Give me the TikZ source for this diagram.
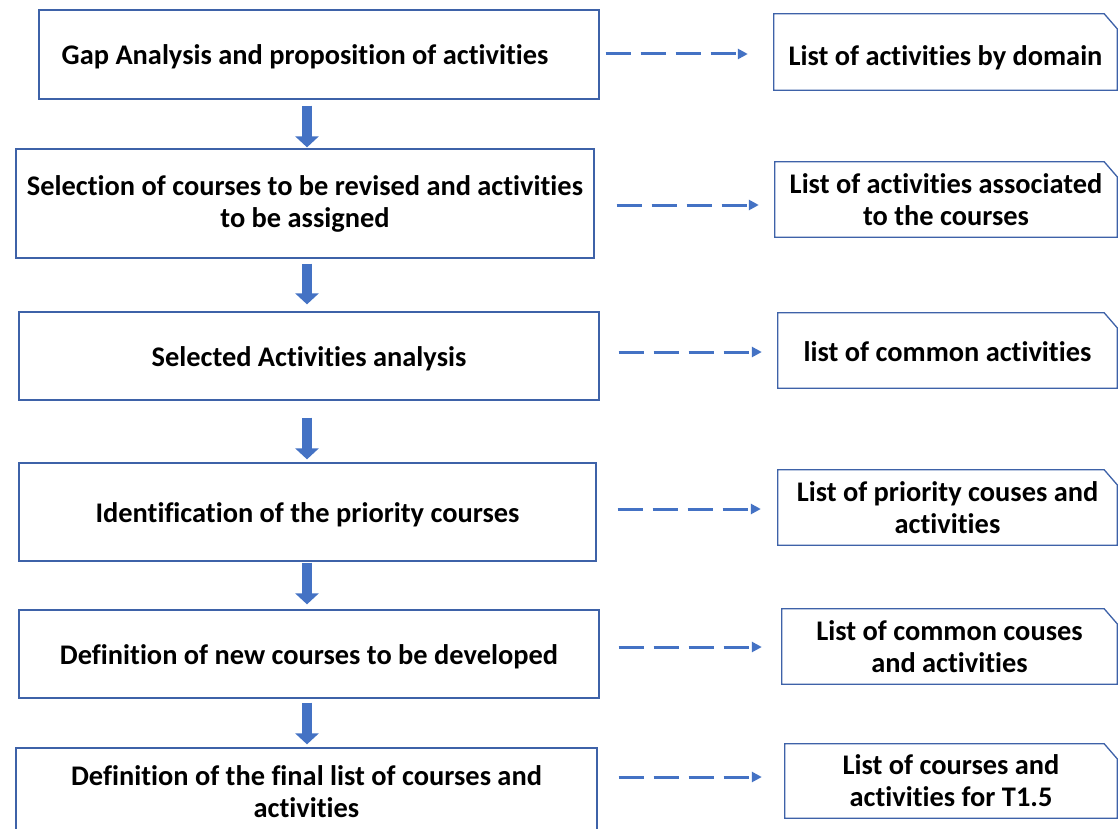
\documentclass[tikz,border=0pt]{standalone}
\usepackage{fontspec}
\setmainfont[Ligatures=NoCommon]{Carlito}
\usetikzlibrary{arrows.meta}

\definecolor{boxline}{RGB}{62,98,168}
\definecolor{flowblue}{RGB}{68,114,196}

\tikzset{
  stage/.style={draw=boxline, line width=1.3pt, align=center, inner sep=0pt,
    font=\fontsize{28.4}{32}\selectfont\bfseries},
  result/.style={align=center, inner sep=0pt,
    font=\fontsize{28.4}{32}\selectfont\bfseries},
  oneline/.style={text height=27pt, text depth=6pt},
  outline/.style={draw=boxline, line width=1.3pt},
  blockarrow/.style={flowblue, line width=10pt, -{Triangle[width=23pt,length=11pt]}},
  dasharrow/.style={flowblue, line width=3pt, dash pattern=on 25pt off 10pt,
    -{Triangle[width=10pt,length=10pt]}}
}

\begin{document}
\begin{tikzpicture}[x=1pt,y=-1pt]
    \useasboundingbox (0,0) rectangle (1118,829);
    \clip (0,0) rectangle (1118,829);
    \fill[white] (0,0) rectangle (1118,829);

    % process steps
    \node[stage, oneline, minimum width=560, minimum height=89] (L1) at (319,54.5) {Gap Analysis and proposition of activities\hspace*{28pt}};
    \node[stage, minimum width=578, minimum height=109] (L2) at (305,203.5) {Selection of courses to be revised and activities\\to be assigned};
    \node[stage, oneline, minimum width=580, minimum height=88] (L3) at (309,356) {Selected Activities analysis};
    \node[stage, oneline, minimum width=577, minimum height=98] (L4) at (307.5,512) {Identification of the priority courses};
    \node[stage, oneline, minimum width=580, minimum height=88] (L5) at (309,654) {Definition of new courses to be developed};
    \node[stage, minimum width=581, minimum height=88] (L6) at (306.5,792) {Definition of the final list of courses and\\activities};

    % outputs
    \node[result, text height=33pt, text depth=6pt, minimum width=343, minimum height=76] (R1) at (945.5,52) {List of activities by domain};
    \node[result, minimum width=342, minimum height=75] (R2) at (946,199.5) {List of activities associated\\to the courses};
    \node[result, oneline, minimum width=339, minimum height=75] (R3) at (947.5,350.5) {list of common activities};
    \node[result, minimum width=339, minimum height=75] (R4) at (947.5,507.5) {List of priority couses and\\activities};
    \node[result, minimum width=335, minimum height=75] (R5) at (949.5,646.5) {List of common couses\\and activities};
    \node[result, minimum width=332, minimum height=74] (R6) at (951,781) {List of courses and\\activities for T1.5};

    % snipped corner frames
    \foreach \r in {R1,R2,R3,R4,R5,R6}
        \draw[outline] (\r.south west) |- ([xshift=-13pt]\r.north east)
            -- ([yshift=-15pt]\r.north east) -- (\r.south east) -- cycle;

    \coordinate (X) at (307,0);
    \draw[blockarrow] ([yshift=-6pt]L1.south -| X) -- ([yshift=1pt]L2.north -| X);
    \draw[blockarrow] ([yshift=-5pt]L2.south -| X) -- ([yshift=7pt]L3.north -| X);
    \draw[blockarrow] ([yshift=-17pt]L3.south -| X) -- ([yshift=3pt]L4.north -| X);
    \draw[blockarrow] ([yshift=-1pt]L4.south -| X) -- ([yshift=5pt]L5.north -| X);
    \draw[blockarrow] ([yshift=-4pt]L5.south -| X) -- ([yshift=3pt]L6.north -| X);

    \draw[dasharrow, shorten <=6pt, shorten >=26pt] (L1.east |- 0,54) -- (R1.west |- 0,54);
    \draw[dasharrow, shorten <=22pt, shorten >=16pt] (L2.east |- 0,205) -- (R2.west |- 0,205);
    \draw[dasharrow, shorten <=19pt, shorten >=16pt] (L3.east |- 0,352) -- (R3.west |- 0,352);
    \draw[dasharrow, shorten <=21pt, shorten >=17pt] (L4.east |- 0,509) -- (R4.west |- 0,509);
    \draw[dasharrow, shorten <=19pt, shorten >=20pt] (L5.east |- 0,647) -- (R5.west |- 0,647);
    \draw[dasharrow, shorten <=21pt, shorten >=23pt] (L6.east |- 0,777) -- (R6.west |- 0,777);
\end{tikzpicture}
\end{document}
